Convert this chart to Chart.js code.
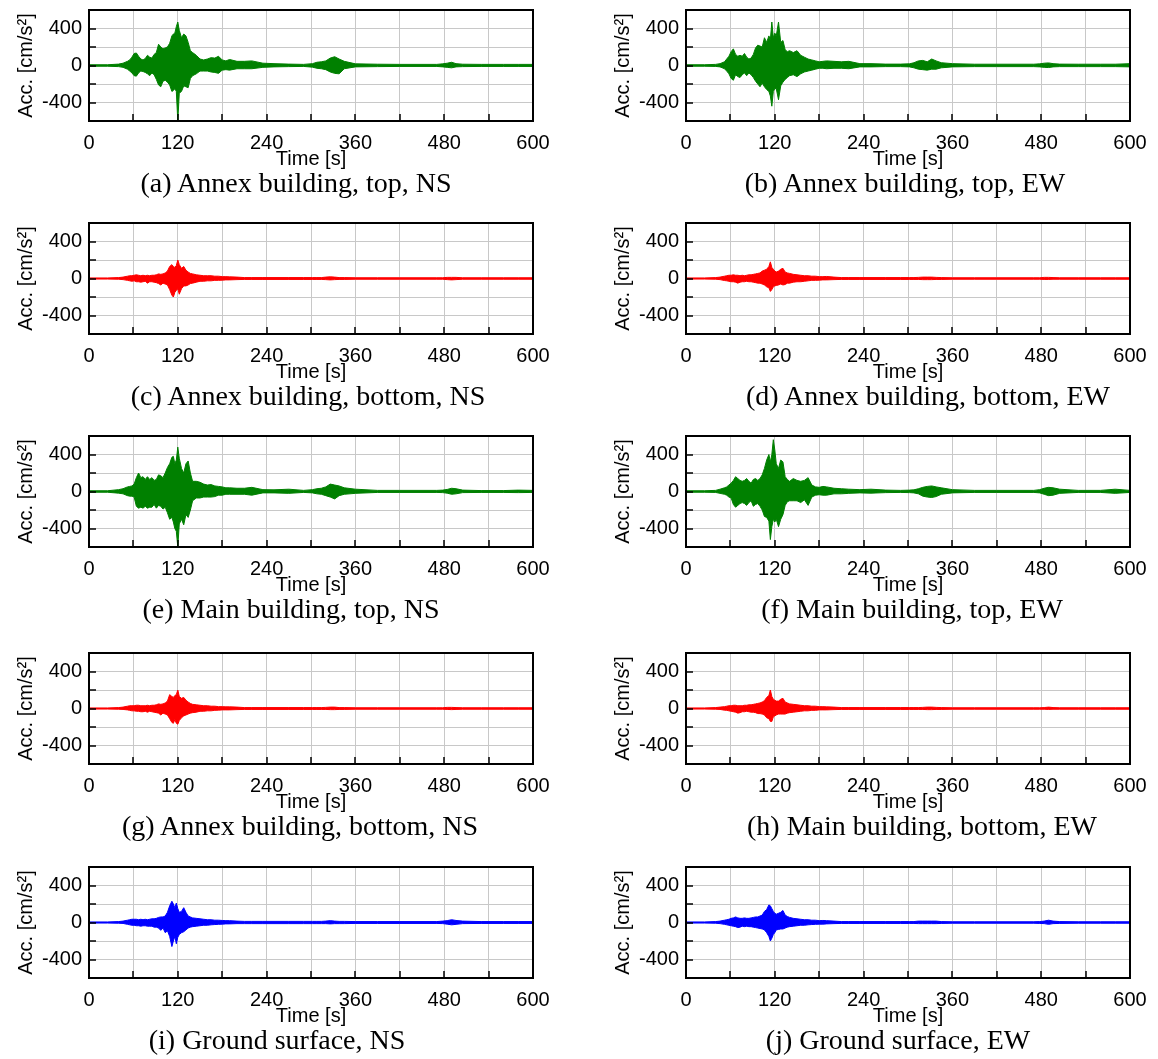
<!DOCTYPE html>
<html><head><meta charset="utf-8">
<script src="https://cdn.jsdelivr.net/npm/chart.js@4.4.1/dist/chart.umd.min.js"></script>
<style>
html,body{margin:0;padding:0;background:#fff;width:1158px;height:1059px;overflow:hidden;position:relative}
canvas{position:absolute}
.cap{position:absolute;font-family:"Liberation Serif","Times New Roman",serif;font-size:28px;color:#000;white-space:nowrap;transform:translate(-50%,-50%);line-height:1}
</style></head><body>
<script>
// Time grid [s] at which the envelope of each record was read
const TIME_S = [0,25,40,46,52, 55,58,61,64,67,70,73,76,79,82,85,88,91,94,97,100,103,106,109,112, 114,116,118,120,122, 125,128,131,134,137,140, 145,150,155,160,165,170,175,180,185,190, 200,210,220,235,250,270,290, 302,308,314,320,326,332,338,345, 360,390,420,450,470, 478,484,490,496,505, 530,560,580,600];

// (a) Annex building, top, NS  [cm/s2] upper / lower envelope
const aUp = [8,8,15,25,45, 60,90,130,135,100,70,60,75,110,90,80,120,140,230,200,180,190,200,240,320, 340,350,420,470,380, 300,340,320,250,160,140, 110,70,60,70,85,80,100,60,50,65, 45,45,50,25,20,15,12, 20,35,40,50,80,95,70,45, 18,14,12,12,12, 18,25,35,20,14, 12,12,12,12];
const aLo = [-8,-8,-12,-20,-40, -60,-80,-110,-115,-80,-60,-65,-75,-90,-110,-80,-100,-150,-210,-230,-170,-160,-180,-210,-280, -270,-250,-280,-600,-300, -280,-220,-230,-240,-140,-110, -90,-60,-60,-60,-70,-75,-85,-50,-45,-50, -35,-35,-35,-20,-15,-12,-10, -18,-30,-35,-45,-70,-85,-90,-35, -15,-12,-10,-10,-10, -15,-20,-25,-15,-12, -10,-10,-10,-10];
// (b) Annex building, top, EW
const bUp = [8,8,12,20,40, 70,100,150,180,120,100,110,100,130,90,70,80,120,190,220,210,200,300,250,320, 280,470,300,350,320, 470,250,270,170,150,160, 140,160,110,90,70,60,50,40,45,50, 45,40,45,20,20,15,15, 18,30,50,55,40,70,50,30, 20,14,14,14,14, 18,25,28,20,15, 14,14,14,20];
const bLo = [-8,-8,-10,-15,-35, -60,-90,-140,-160,-100,-120,-130,-100,-80,-110,-80,-100,-130,-170,-200,-230,-190,-230,-260,-280, -330,-440,-280,-250,-250, -370,-220,-180,-150,-130,-110, -100,-120,-90,-70,-60,-50,-40,-30,-30,-35, -30,-30,-35,-15,-15,-12,-12, -15,-25,-40,-45,-50,-40,-40,-25, -15,-12,-12,-12,-12, -15,-20,-22,-15,-12, -12,-12,-12,-15];
// (c) Annex building, bottom, NS
const cUp = [6,6,10,15,25, 30,30,35,40,35,30,35,30,35,30,35,35,40,50,45,50,60,80,130,150, 130,120,140,200,150, 110,130,90,70,55,50, 40,35,30,30,30,25,25,20,20,18, 15,10,10,10,10,10,10, 10,10,10,15,18,15,10,10, 8,8,8,8,8, 8,12,12,12,8, 8,8,8,8];
const cLo = [-6,-6,-8,-12,-20, -25,-30,-25,-35,-35,-40,-35,-30,-50,-35,-35,-40,-45,-55,-70,-50,-60,-70,-120,-180, -200,-150,-130,-110,-170, -110,-80,-80,-70,-55,-50, -40,-30,-30,-25,-25,-20,-20,-18,-15,-15, -12,-10,-10,-10,-10,-10,-10, -10,-10,-10,-12,-15,-12,-10,-10, -8,-8,-8,-8,-8, -8,-12,-15,-12,-8, -8,-8,-8,-8];
// (d) Annex building, bottom, EW
const dUp = [6,6,10,15,25, 30,35,35,40,35,35,30,35,30,35,40,40,45,50,55,60,80,90,100,130, 180,120,100,80,70, 80,100,110,70,60,55, 45,40,35,30,30,25,25,20,20,22, 15,10,10,10,10,10,10, 10,10,12,15,15,15,12,10, 8,8,8,8,8, 8,12,12,10,8, 8,8,8,8];
const dLo = [-6,-6,-8,-12,-22, -25,-30,-35,-35,-40,-50,-40,-35,-35,-30,-35,-35,-40,-45,-50,-50,-60,-70,-90,-100, -140,-120,-90,-80,-75, -70,-60,-70,-65,-50,-50, -40,-35,-35,-30,-25,-20,-20,-18,-15,-15, -12,-10,-10,-10,-10,-10,-10, -10,-10,-10,-12,-12,-12,-10,-10, -8,-8,-8,-8,-8, -8,-10,-10,-8,-8, -8,-8,-8,-8];
// (e) Main building, top, NS
const eUp = [8,8,20,30,50, 55,60,80,150,200,150,160,130,160,130,150,120,130,180,170,150,200,260,300,370, 380,300,340,480,360, 250,200,300,330,200,110, 110,100,80,70,75,60,55,50,40,40, 35,35,45,20,18,25,12, 20,30,35,50,80,70,60,40, 25,12,12,12,12, 15,22,35,30,15, 10,10,15,12];
const eLo = [-8,-8,-18,-25,-45, -50,-50,-60,-160,-180,-170,-180,-160,-180,-170,-170,-140,-180,-150,-160,-190,-170,-230,-300,-280, -330,-400,-430,-600,-350, -300,-360,-250,-280,-200,-100, -70,-70,-60,-60,-60,-55,-40,-40,-30,-30, -30,-30,-40,-15,-15,-20,-10, -15,-25,-30,-45,-60,-80,-45,-30, -20,-10,-10,-10,-10, -12,-18,-30,-25,-12, -10,-10,-12,-10];
// (f) Main building, top, EW
const fUp = [8,8,12,25,40, 50,70,90,120,160,140,120,110,120,140,110,90,130,140,120,140,180,250,340,400, 320,400,560,450,300, 250,340,320,160,130,110, 140,120,110,120,150,70,50,45,55,50, 35,30,25,20,25,15,12, 15,18,30,45,55,60,50,40, 20,12,12,12,12, 20,35,45,40,25, 12,12,25,12];
const fLo = [-8,-8,-10,-20,-30, -40,-60,-70,-140,-170,-150,-130,-120,-130,-150,-120,-100,-160,-140,-130,-160,-200,-270,-280,-320, -520,-380,-300,-330,-300, -380,-300,-250,-150,-110,-100, -100,-100,-120,-90,-150,-60,-40,-35,-40,-40, -25,-25,-20,-15,-18,-12,-10, -12,-15,-25,-50,-60,-65,-55,-30, -15,-10,-10,-10,-10, -15,-30,-45,-40,-20, -10,-10,-20,-10];
// (g) Annex building, bottom, NS
const gUp = [6,6,10,15,25, 30,30,30,35,35,30,30,30,35,30,35,35,40,50,45,50,60,80,150,130, 120,140,150,200,130, 110,120,90,70,55,45, 40,35,30,30,25,25,20,20,18,18, 15,10,10,10,10,10,10, 10,10,10,12,15,15,10,10, 8,8,8,8,8, 8,12,12,10,8, 8,8,8,8];
const gLo = [-6,-6,-8,-10,-15, -20,-25,-25,-30,-30,-35,-35,-30,-40,-30,-35,-40,-45,-50,-70,-50,-60,-70,-110,-150, -160,-120,-160,-170,-130, -100,-80,-70,-60,-50,-45, -40,-30,-30,-25,-25,-20,-18,-15,-15,-15, -12,-10,-10,-10,-10,-10,-10, -10,-10,-10,-10,-12,-12,-10,-10, -8,-8,-8,-8,-8, -8,-10,-12,-10,-8, -8,-8,-8,-8];
// (h) Main building, bottom, EW
const hUp = [6,6,10,15,20, 25,30,30,35,35,30,30,30,35,35,40,40,45,50,55,60,70,85,120,140, 200,130,100,90,80, 80,100,110,70,60,50, 45,40,35,30,30,25,25,20,20,18, 15,10,10,10,10,10,10, 10,10,10,12,15,15,12,10, 8,8,8,8,8, 8,10,15,10,8, 8,8,8,8];
const hLo = [-6,-6,-8,-10,-18, -20,-25,-30,-35,-40,-50,-45,-35,-35,-30,-35,-40,-40,-45,-55,-55,-60,-70,-100,-110, -140,-140,-90,-80,-70, -60,-60,-60,-60,-50,-45, -40,-35,-30,-25,-25,-20,-20,-15,-15,-15, -12,-10,-10,-10,-10,-10,-10, -10,-10,-10,-10,-12,-12,-10,-10, -8,-8,-8,-8,-8, -8,-8,-10,-8,-8, -8,-8,-8,-8];
// (i) Ground surface, NS
const iUp = [6,6,10,15,25, 30,35,35,35,30,35,30,35,30,35,40,40,45,55,60,60,70,110,180,230, 200,160,210,150,110, 120,160,110,70,60,50, 45,40,35,30,30,25,25,22,20,20, 15,12,12,12,12,12,12, 12,12,12,15,20,15,12,12, 10,10,10,10,10, 15,20,30,22,15, 10,10,10,10];
const iLo = [-6,-6,-8,-10,-20, -25,-30,-30,-35,-35,-40,-35,-35,-40,-40,-40,-50,-50,-60,-85,-60,-110,-90,-150,-260, -200,-150,-230,-160,-130, -110,-100,-80,-60,-50,-45, -40,-35,-30,-30,-25,-22,-20,-18,-15,-15, -12,-12,-12,-12,-12,-12,-12, -12,-12,-12,-12,-15,-12,-12,-12, -10,-10,-10,-10,-10, -12,-18,-25,-20,-12, -10,-10,-10,-10];
// (j) Ground surface, EW
const jUp = [6,6,10,15,25, 30,35,45,50,60,50,45,45,50,45,45,50,55,60,60,70,80,120,140,190, 180,150,120,100,90, 100,110,130,80,65,55, 45,40,35,30,30,25,25,20,22,20, 15,10,10,10,10,10,10, 10,10,15,15,15,15,15,10, 8,8,8,8,8, 10,15,25,15,10, 8,8,8,8];
const jLo = [-6,-6,-8,-12,-20, -25,-30,-35,-40,-45,-55,-50,-40,-45,-40,-45,-45,-50,-55,-60,-65,-70,-80,-110,-150, -200,-170,-130,-110,-80, -75,-70,-70,-60,-50,-45, -40,-35,-30,-30,-25,-22,-20,-18,-18,-15, -12,-10,-10,-10,-10,-10,-10, -10,-10,-12,-12,-12,-12,-12,-10, -8,-8,-8,-8,-8, -10,-12,-20,-12,-10, -8,-8,-8,-8];

// Axis tick labels
const X_TICK_LABELS = [0,120,240,360,480,600];
const Y_TICK_LABELS = [-400,0,400];
const CAPTIONS = ['(a) Annex building, top, NS','(b) Annex building, top, EW','(c) Annex building, bottom, NS','(d) Annex building, bottom, EW','(e) Main building, top, NS','(f) Main building, top, EW','(g) Annex building, bottom, NS','(h) Main building, bottom, EW','(i) Ground surface, NS','(j) Ground surface, EW'];

const GREEN = '#008000', RED = '#ff0000', BLUE = '#0000ff';
const panels = [
  [aUp,aLo,GREEN],[bUp,bLo,GREEN],[cUp,cLo,RED],[dUp,dLo,RED],[eUp,eLo,GREEN],
  [fUp,fLo,GREEN],[gUp,gLo,RED],[hUp,hLo,RED],[iUp,iLo,BLUE],[jUp,jLo,BLUE]
];

// layout
const ROW_ZERO = [65, 278.5, 491, 708, 922.5];
const PLOT_H = 111, PAD_TOP = 20, XAX_H = 50, YAX_W = 89;
const COL_LEFT = [0, 597];
const CAP_X = [[296, 905],[308, 928],[291, 912],[300, 922],[277, 898]];
const SANS = '"Liberation Sans", Arial, sans-serif';

const frameTicks = {
  id: 'frameTicks',
  afterDatasetsDraw(chart) {
    const {ctx, chartArea: a, scales: {x, y}} = chart;
    ctx.save();
    ctx.strokeStyle = '#000';
    ctx.lineWidth = 1.5;
    ctx.beginPath();
    x.ticks.forEach(t => {
      if (t.value <= x.min || t.value >= x.max) return;
      const px = Math.round(x.getPixelForValue(t.value));
      ctx.moveTo(px, a.bottom); ctx.lineTo(px, a.bottom - 7);
    });
    y.ticks.forEach(t => {
      if (t.value <= y.min || t.value >= y.max) return;
      const py = Math.round(y.getPixelForValue(t.value));
      ctx.moveTo(a.left, py); ctx.lineTo(a.left + 7, py);
    });
    ctx.stroke();
    ctx.lineWidth = 2;
    ctx.strokeRect(a.left, a.top, a.right - a.left, a.bottom - a.top);
    ctx.restore();
  }
};

panels.forEach((p, k) => {
  const row = Math.floor(k / 2), col = k % 2;
  const [up, lo, color] = p;
  const cv = document.createElement('canvas');
  cv.width = 560;
  cv.height = PAD_TOP + PLOT_H + XAX_H;
  cv.style.left = COL_LEFT[col] + 'px';
  cv.style.top = (Math.round(ROW_ZERO[row] - PLOT_H / 2) - PAD_TOP) + 'px';
  document.body.appendChild(cv);
  new Chart(cv, {
    type: 'line',
    data: {
      datasets: [
        {data: TIME_S.map((t, i) => ({x: t, y: up[i]})), borderColor: color, backgroundColor: color,
         borderWidth: 1, pointRadius: 0, fill: '+1', tension: 0},
        {data: TIME_S.map((t, i) => ({x: t, y: lo[i]})), borderColor: color, backgroundColor: color,
         borderWidth: 1, pointRadius: 0, fill: false, tension: 0}
      ]
    },
    options: {
      responsive: false, animation: false, devicePixelRatio: 1,
      layout: {padding: {top: PAD_TOP, right: 27, bottom: 0, left: 0}},
      plugins: {legend: {display: false}, tooltip: {enabled: false}},
      scales: {
        x: {
          type: 'linear', min: 0, max: 600,
          ticks: {stepSize: 60, autoSkip: false, maxRotation: 0, padding: 10, color: '#000',
                  font: {family: SANS, size: 20},
                  callback: v => X_TICK_LABELS.includes(v) ? String(v) : ''},
          grid: {color: '#c8c8c8', lineWidth: 1, drawTicks: false},
          border: {display: false},
          title: {display: true, text: 'Time [s]', color: '#000', font: {family: SANS, size: 20}, padding: 0},
          afterFit: s => { s.height = XAX_H; }
        },
        y: {
          min: -600, max: 600,
          ticks: {stepSize: 200, autoSkip: false, padding: 7, color: '#000', font: {family: SANS, size: 20},
                  callback: v => Y_TICK_LABELS.includes(v) ? String(v) : ''},
          grid: {color: '#c8c8c8', lineWidth: 1, drawTicks: false},
          border: {display: false},
          title: {display: true, text: 'Acc. [cm/s²]', color: '#000', font: {family: SANS, size: 20}, padding: {top: 14, bottom: 0}},
          afterFit: s => { s.width = YAX_W; }
        }
      }
    },
    plugins: [frameTicks]
  });
  const cap = document.createElement('div');
  cap.className = 'cap';
  cap.textContent = CAPTIONS[k];
  cap.style.left = CAP_X[row][col] + 'px';
  cap.style.top = (ROW_ZERO[row] + 117.5) + 'px';
  document.body.appendChild(cap);
});
</script>
</body></html>
